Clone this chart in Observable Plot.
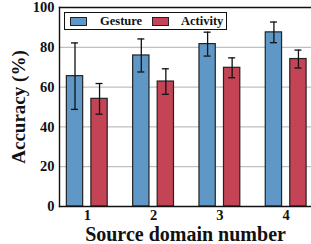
<!DOCTYPE html>
<html>
<head>
<meta charset="utf-8">
<script src="https://cdn.jsdelivr.net/npm/d3@7"></script>
<script src="https://cdn.jsdelivr.net/npm/@observablehq/plot@0.6"></script>
<style>
  body { margin: 0; background: #fff; }
  #wrap { position: relative; width: 311px; height: 244px; overflow: hidden; font-family: "Liberation Serif", "Times New Roman", serif; }
  #wrap svg text { font-weight: bold; }
  #legend { position: absolute; left: 64px; top: 12px; width: 163px; height: 18px; border: 1px solid #111; background: #fff; font-weight: bold; font-size: 12.5px; box-sizing: border-box; }
  .sw { position: absolute; top: 4px; width: 17px; height: 9px; border: 1px solid #222; box-sizing: border-box; }
  .lt { position: absolute; top: 0px; line-height: 17px; color: #111; }
</style>
</head>
<body>
<div id="wrap"></div>
<script>
const groups = [1, 2, 3, 4];
const seriesNames = ["Gesture", "Activity"];
const gesture = [65.5, 75.9, 81.6, 87.5];
const gestureErr = [16.7, 8.3, 6.0, 5.2];
const activity = [54.1, 62.8, 69.7, 74.1];
const activityErr = [7.7, 6.4, 5.0, 4.5];
const yTicks = [0, 20, 40, 60, 80, 100];
const colors = ["#5f98c6", "#c44456"];

// layout constants (in x data units)
const halfGap = 0.062, barW = 0.246, capHalf = 0.053;

const rows = [];
groups.forEach((g, i) => {
  rows.push({g, s: seriesNames[0], v: gesture[i], e: gestureErr[i], x1: g - halfGap - barW, x2: g - halfGap});
  rows.push({g, s: seriesNames[1], v: activity[i], e: activityErr[i], x1: g + halfGap, x2: g + halfGap + barW});
});
rows.forEach(r => { r.xc = (r.x1 + r.x2) / 2; r.lo = r.v - r.e; r.hi = r.v + r.e; });

const font = "Liberation Serif";
const chart = Plot.plot({
  width: 311,
  height: 244,
  marginTop: 7,
  marginBottom: 38,
  marginLeft: 59,
  marginRight: 0,
  style: {fontFamily: font, fontWeight: "bold", color: "#111", background: "transparent"},
  x: {domain: [0.581, 4.382]},
  y: {domain: [0, 100]},
  color: {domain: seriesNames, range: colors},
  marks: [
    Plot.gridY(yTicks.filter(t => t > 0 && t < 100), {stroke: "#b0b0b0", strokeOpacity: 1, strokeWidth: 1}),
    Plot.rectY(rows, {x1: "x1", x2: "x2", y1: 0, y2: "v", fill: "s", stroke: "#222", strokeWidth: 1.2}),
    Plot.ruleX(rows, {x: "xc", y1: "lo", y2: "hi", stroke: "#111", strokeWidth: 1.3}),
    Plot.ruleY(rows, {y: "lo", x1: d => d.xc - capHalf, x2: d => d.xc + capHalf, stroke: "#111", strokeWidth: 1.3}),
    Plot.ruleY(rows, {y: "hi", x1: d => d.xc - capHalf, x2: d => d.xc + capHalf, stroke: "#111", strokeWidth: 1.3}),
    Plot.frame({anchor: "left", stroke: "#111", strokeWidth: 1.4}),
    Plot.frame({anchor: "top", stroke: "#111", strokeWidth: 1.4}),
    Plot.frame({anchor: "bottom", stroke: "#111", strokeWidth: 1.4}),
    Plot.axisY({ticks: yTicks, tickSize: 0, tickPadding: 5, fontSize: 14.5, label: null}),
    Plot.axisY({ticks: [], label: "Accuracy (%)", labelAnchor: "center", labelArrow: "none", labelOffset: 48, fontSize: 19}),
    Plot.axisX({ticks: groups, tickSize: 0, tickPadding: 3, fontSize: 14.5, label: null, tickFormat: d => String(d)}),
    Plot.axisX({ticks: [], label: "Source domain number", labelAnchor: "center", labelArrow: "none", labelOffset: 34, fontSize: 20})
  ]
});
const wrap = document.getElementById("wrap");
wrap.appendChild(chart);

const legend = document.createElement("div");
legend.id = "legend";
const pos = [{sw: 5, tx: 35}, {sw: 87, tx: 116}];
seriesNames.forEach((name, i) => {
  const sw = document.createElement("div");
  sw.className = "sw";
  sw.style.left = pos[i].sw + "px";
  sw.style.background = colors[i];
  legend.appendChild(sw);
  const t = document.createElement("div");
  t.className = "lt";
  t.style.left = pos[i].tx + "px";
  t.textContent = name;
  legend.appendChild(t);
});
wrap.appendChild(legend);
</script>
</body>
</html>
